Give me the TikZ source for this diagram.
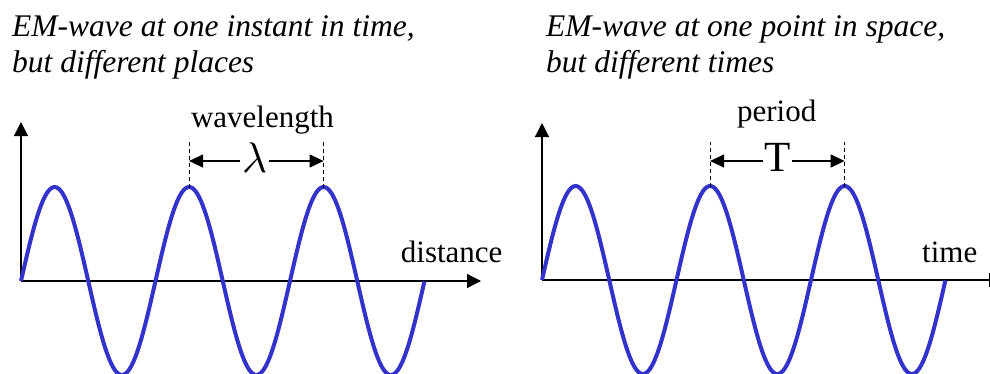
\documentclass[tikz,border=0pt]{standalone}
\usepackage{fontspec}
\usepackage{graphicx}
\setmainfont{Liberation Serif}
\usetikzlibrary{arrows.meta}
\definecolor{wavecol}{RGB}{51,51,204}
\tikzset{
 axis/.style={line width=1.3bp, -{Triangle[length=14bp,width=14bp]}},
 dimarrow/.style={line width=1.3bp, -{Triangle[length=14bp,width=13bp]}},
 dimline/.style={line width=1.2bp, dash pattern=on 4bp off 3bp},
 wavecurve/.style={wavecol, line width=4bp},
 lbl/.style={font=\fontsize{31bp}{36bp}\selectfont, inner sep=0pt},
 ttl/.style={font=\fontsize{31.5bp}{36bp}\selectfont\itshape, inner sep=0pt, anchor=base west},
 sym/.style={inner sep=1.5bp, anchor=base},
}
\begin{document}
\begin{tikzpicture}[x=1bp,y=-1bp]
\useasboundingbox (0,0) rectangle (990,373);
\clip (0,0) rectangle (990,373);
% ---------- left panel ----------
\node[ttl] (t1a) at (12,36) {EM-wave at one instant in time,};
\node[ttl] (t1b) at (12,72) {but different places};
\coordinate (o1) at (21,281);
\coordinate (y1) at (21,122);
\coordinate (x1) at (481,281);
\draw[axis] (o1) -- (y1);
\draw[axis] (o1) -- (x1);
\draw[wavecurve] plot[domain=0:3, samples=241] ({21+134.5*\x}, {281-94*sin(360*\x)});
\coordinate (p1) at (189.1,188);
\coordinate (p2) at (323.6,188);
\coordinate (d1) at (189.1,142);
\coordinate (d2) at (323.6,142);
\coordinate (a1) at (189.1,161);
\coordinate (a2) at (323.6,161);
\draw[dimline] (p1) -- (d1);
\draw[dimline] (p2) -- (d2);
\node[sym] (lam) at (254.5,172) {\scalebox{4.3}{$\lambda$}};
\draw[dimarrow] (lam.west |- a1) -- (a1);
\draw[dimarrow] (lam.east |- a2) -- (a2);
\node[lbl, anchor=base] (wl) at (262.5,127) {wavelength};
\node[lbl, anchor=base west] (dist) at (400.7,262) {distance};
% ---------- right panel ----------
\node[ttl] (t2a) at (546,36) {EM-wave at one point in space,};
\node[ttl] (t2b) at (546,72) {but different times};
\coordinate (o2) at (542,280);
\coordinate (y2) at (542,123);
\coordinate (x2) at (1003,280);
\draw[axis] (o2) -- (y2);
\draw[axis] (o2) -- (x2);
\draw[wavecurve] plot[domain=0:3, samples=241] ({542+134.5*\x}, {280-94*sin(360*\x)});
\coordinate (q1) at (710.1,187);
\coordinate (q2) at (844.6,187);
\coordinate (e1) at (710.1,142);
\coordinate (e2) at (844.6,142);
\coordinate (b1) at (710.1,161);
\coordinate (b2) at (844.6,161);
\draw[dimline] (q1) -- (e1);
\draw[dimline] (q2) -- (e2);
\node[sym, font=\fontsize{43bp}{43bp}\selectfont] (per) at (777.4,171.7) {T};
\draw[dimarrow] (per.west |- b1) -- (b1);
\draw[dimarrow] (per.east |- b2) -- (b2);
\node[lbl, anchor=base] (pl) at (776.7,121.5) {period};
\node[lbl, anchor=base west] (tm) at (922,262) {time};
\end{tikzpicture}
\end{document}
